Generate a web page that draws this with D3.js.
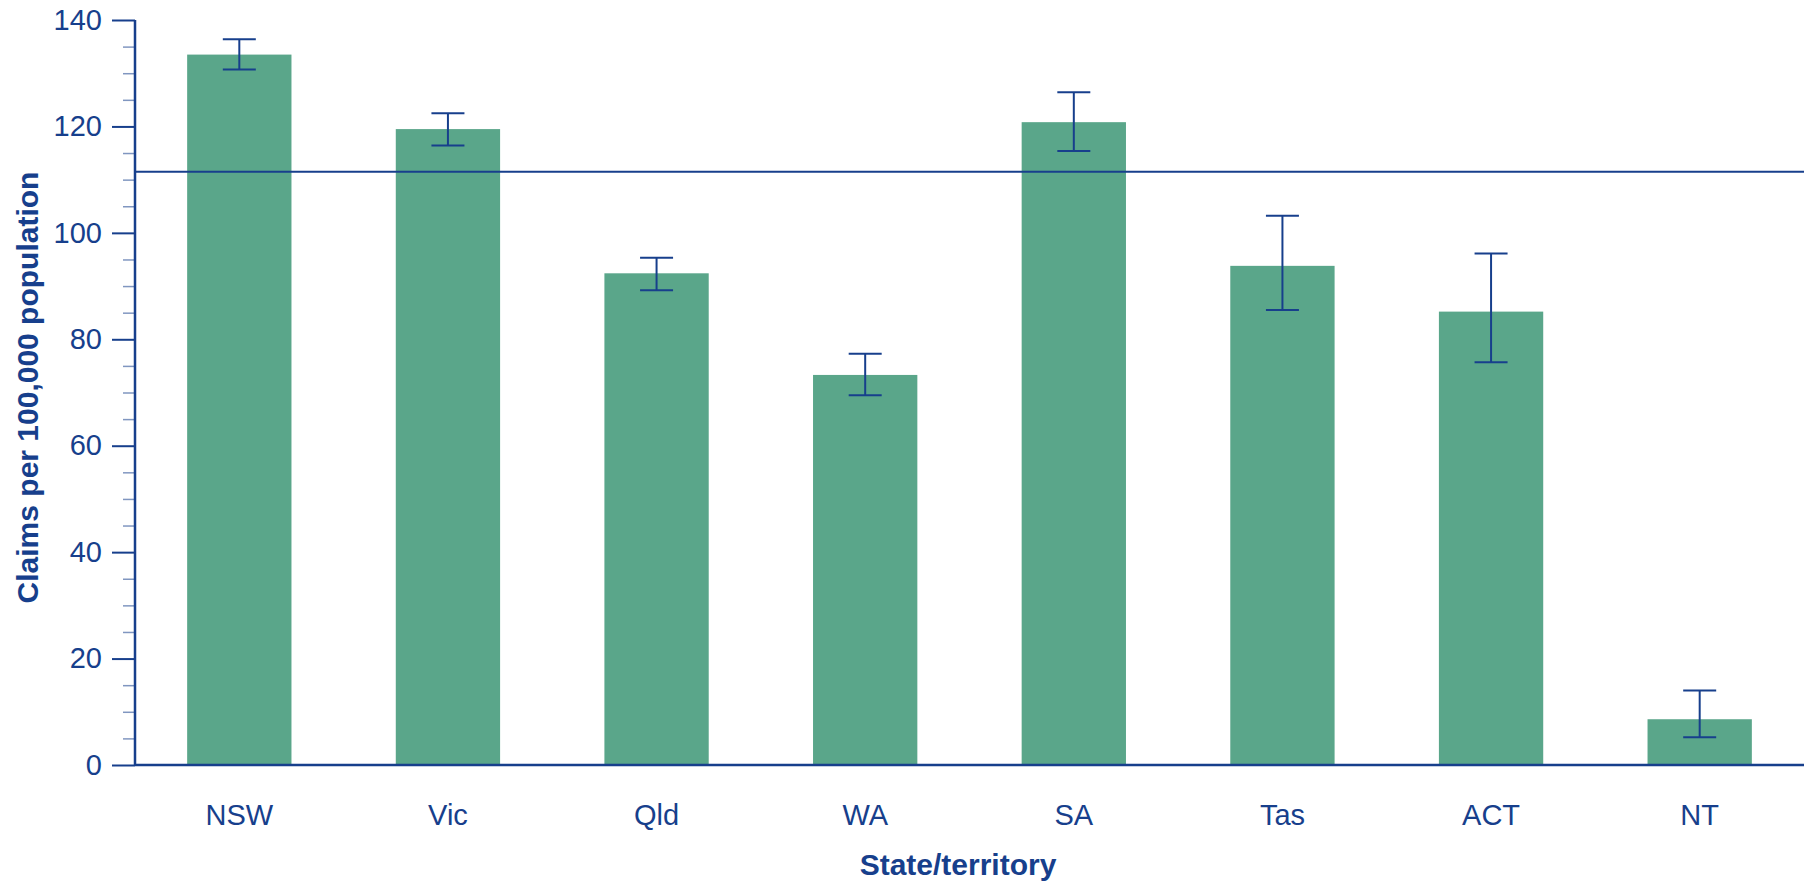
<!DOCTYPE html>
<html>
<head>
<meta charset="utf-8">
<script src="https://cdn.jsdelivr.net/npm/d3@7"></script>
<style>
  html, body { margin: 0; padding: 0; background: #ffffff; }
  svg { display: block; }
  text { font-family: "Liberation Sans", Arial, sans-serif; }
</style>
</head>
<body>
<div id="chart"></div>
<script>
// ---- data ----
const categories = ["NSW", "Vic", "Qld", "WA", "SA", "Tas", "ACT", "NT"];
const rates      = [133.5, 119.5, 92.4, 73.3, 120.8, 93.8, 85.2, 8.6];
const lowerCI    = [130.7, 116.4, 89.2, 69.5, 115.4, 85.5, 75.7, 5.2];
const upperCI    = [136.4, 122.5, 95.3, 77.3, 126.4, 103.2, 96.1, 14.0];
const nationalRate = 111.5;
const yTicks = [0, 20, 40, 60, 80, 100, 120, 140];
const yMinorTicks = d3.range(0, 141, 5);
const yTitle = "Claims per 100,000 population";
const xTitle = "State/territory";

// ---- layout ----
const W = 1809, H = 884;
const mLeft = 135, mRight = 1804, mTop = 20, mBottom = 765;
const navy = "#173f8c";
const green = "#5aa68a";

const svg = d3.select("#chart").append("svg")
  .attr("width", W).attr("height", H);

const x = d3.scaleBand().domain(categories).range([mLeft, mRight]).paddingInner(0.5).paddingOuter(0.25);
const y = d3.scaleLinear().domain([0, 140]).range([mBottom, mTop]);

const data = categories.map((c, i) => ({ c, v: rates[i], lo: lowerCI[i], hi: upperCI[i] }));

// bars
svg.append("g").selectAll("rect").data(data).join("rect")
  .attr("x", d => x(d.c))
  .attr("y", d => y(d.v))
  .attr("width", x.bandwidth())
  .attr("height", d => y(0) - y(d.v))
  .attr("fill", green);

// national average line
svg.append("line")
  .attr("x1", mLeft).attr("x2", mRight)
  .attr("y1", y(nationalRate)).attr("y2", y(nationalRate))
  .attr("stroke", navy).attr("stroke-width", 2);

// error bars
const capW = 33;
const eb = svg.append("g").attr("stroke", navy).attr("stroke-width", 2);
data.forEach(d => {
  const cx = x(d.c) + x.bandwidth() / 2;
  eb.append("line").attr("x1", cx).attr("x2", cx).attr("y1", y(d.lo)).attr("y2", y(d.hi));
  eb.append("line").attr("x1", cx - capW / 2).attr("x2", cx + capW / 2).attr("y1", y(d.hi)).attr("y2", y(d.hi));
  eb.append("line").attr("x1", cx - capW / 2).attr("x2", cx + capW / 2).attr("y1", y(d.lo)).attr("y2", y(d.lo));
});

// y axis minor ticks
const yMinor = d3.axisLeft(y).tickValues(yMinorTicks.filter(v => yTicks.indexOf(v) < 0)).tickSize(12).tickFormat("");
svg.append("g").attr("transform", `translate(${mLeft},0)`).call(yMinor)
  .call(g => g.select(".domain").remove())
  .call(g => g.selectAll(".tick line").attr("stroke", navy).attr("stroke-opacity", 0.55).attr("stroke-width", 1.5));

// y axis major
const yAxis = d3.axisLeft(y).tickValues(yTicks).tickSize(23).tickPadding(10);
svg.append("g").attr("transform", `translate(${mLeft},0)`).call(yAxis)
  .call(g => g.select(".domain").remove())
  .call(g => g.selectAll(".tick line").attr("stroke", navy).attr("stroke-width", 2))
  .call(g => g.selectAll(".tick text").attr("fill", navy).attr("font-size", 29)
    .attr("font-family", "'Liberation Sans', Arial, sans-serif"));

// y axis line
svg.append("line").attr("x1", mLeft).attr("x2", mLeft).attr("y1", mTop).attr("y2", mBottom)
  .attr("stroke", navy).attr("stroke-width", 2.5);

// x axis
const xAxis = d3.axisBottom(x).tickSize(0).tickPadding(39);
svg.append("g").attr("transform", `translate(0,${mBottom})`).call(xAxis)
  .call(g => g.select(".domain").remove())
  .call(g => g.selectAll(".tick text").attr("fill", navy).attr("font-size", 29)
    .attr("font-family", "'Liberation Sans', Arial, sans-serif"));

svg.append("line").attr("x1", mLeft).attr("x2", mRight).attr("y1", mBottom).attr("y2", mBottom)
  .attr("stroke", navy).attr("stroke-width", 2.5);

// titles
svg.append("text")
  .attr("transform", `translate(38,${(mTop + mBottom) / 2 - 5}) rotate(-90)`)
  .attr("text-anchor", "middle")
  .attr("font-size", 30).attr("font-weight", "bold").attr("fill", navy)
  .text(yTitle);

svg.append("text")
  .attr("x", 958).attr("y", 875)
  .attr("text-anchor", "middle")
  .attr("font-size", 30).attr("font-weight", "bold").attr("fill", navy)
  .text(xTitle);
</script>
</body>
</html>
